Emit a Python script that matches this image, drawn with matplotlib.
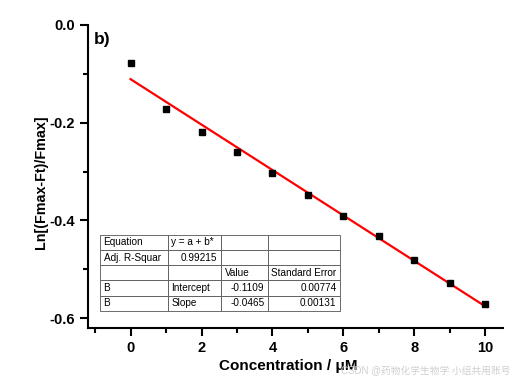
import numpy as np
import matplotlib.pyplot as plt
from matplotlib.ticker import MultipleLocator

plt.rcParams['font.family'] = ['Liberation Sans', 'Noto Sans CJK SC', 'DejaVu Sans']

# Datos
conc = [0, 1, 2, 3, 4, 5, 6, 7, 8, 9, 10]
ln_ratio = [-0.078, -0.172, -0.219, -0.260, -0.303, -0.348,
            -0.391, -0.432, -0.480, -0.529, -0.572]

# Ajuste lineal y = a + b*x
a, b = -0.1109, -0.0465
fit_x = np.array([0, 10])
fit_y = a + b * fit_x

table_rows = [
    ["Equation", "y = a + b*", "", ""],
    ["Adj. R-Squar", "0.99215", "", ""],
    ["", "", "Value", "Standard Error"],
    ["B", "Intercept", "-0.1109", "0.00774"],
    ["B", "Slope", "-0.0465", "0.00131"],
]

fig = plt.figure(figsize=(5.16, 3.84), dpi=100)
ax = fig.add_axes([0.1705, 0.146, 0.8045, 0.789])

ax.plot(fit_x, fit_y, color="red", linewidth=1.6, zorder=2)
ax.plot(conc, ln_ratio, "s", color="black", markersize=5, zorder=3)

ax.set_xlim(-1.2, 10.5)
ax.set_ylim(-0.62, 0.0)
ax.xaxis.set_major_locator(MultipleLocator(2))
ax.xaxis.set_minor_locator(MultipleLocator(1))
ax.yaxis.set_minor_locator(MultipleLocator(0.1))
ax.set_yticks([0.0, -0.2, -0.4, -0.6])
ax.set_yticklabels(["0.0", "-0.2", "-0.4", "-0.6"])

for s in ["top", "right"]:
    ax.spines[s].set_visible(False)
for s in ["left", "bottom"]:
    ax.spines[s].set_linewidth(1.5)
ax.tick_params(which="major", direction="out", length=6, width=1.5,
               labelsize=10.5)
ax.tick_params(which="minor", direction="out", length=3.5, width=1.5)
for lbl in ax.get_xticklabels() + ax.get_yticklabels():
    lbl.set_fontweight("bold")

ax.set_xlabel("Concentration / μM", fontsize=11, fontweight="bold")
ax.set_ylabel("Ln[(Fmax-Ft)/Fmax]", fontsize=10.3, fontweight="bold")
ax.xaxis.set_label_coords(0.482, -0.103)
ax.yaxis.set_label_coords(-0.097, 0.482)

fig.text(0.181, 0.885, "b)", fontsize=12.5, fontweight="bold")

# Tabla de resultados del ajuste
col_w = [68, 53, 47, 72]
tbl = ax.table(cellText=table_rows, bbox=[0.029, 0.056, 0.578, 0.252],
               colWidths=col_w)
tbl.auto_set_font_size(False)
right_cells = {(1, 1), (3, 2), (3, 3), (4, 2), (4, 3)}
for (r, c), cell in tbl.get_celld().items():
    cell.set_fontsize(7.2)
    cell.set_linewidth(0.6)
    cell.set_edgecolor("#555555")
    cell.PAD = 3.5 / col_w[c]
    loc = "right" if (r, c) in right_cells else "left"
    cell._loc = loc
    cell.get_text().set_horizontalalignment(loc)

fig.text(0.99, 0.035, "CSDN @药物化学生物学 小组共用账号", fontsize=7,
         color="#cfcfcf", ha="right", va="center")

plt.savefig("out.png", dpi=100)
